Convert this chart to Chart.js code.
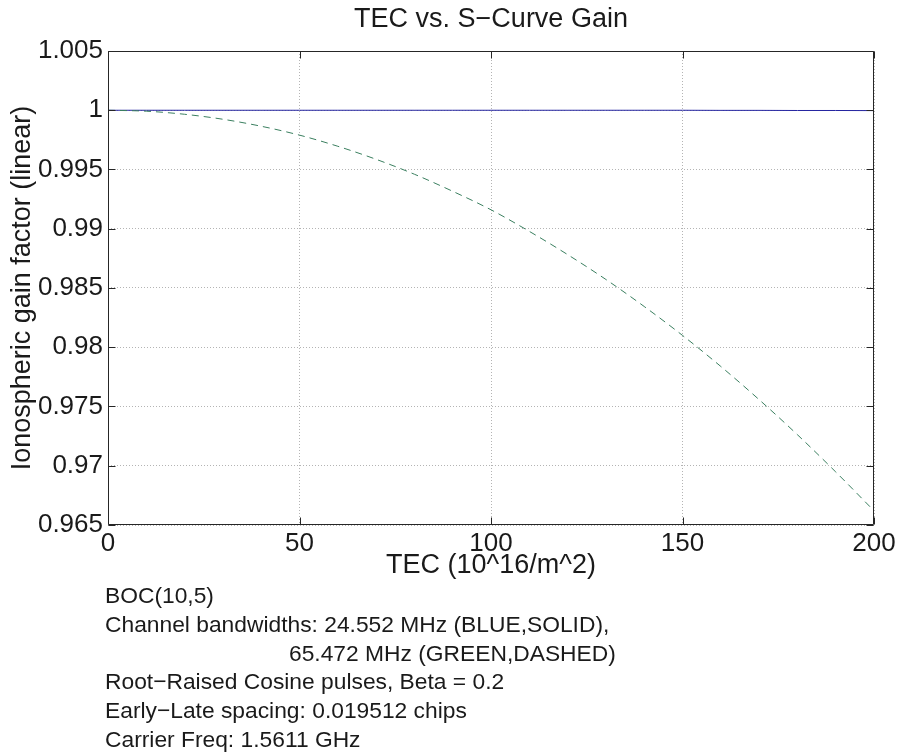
<!DOCTYPE html>
<html>
<head>
<meta charset="utf-8">
<title>TEC vs. S−Curve Gain</title>
<script src="https://cdn.jsdelivr.net/npm/chart.js@4.4.1/dist/chart.umd.min.js"></script>
<style>
  html, body { margin: 0; padding: 0; background: #fff; }
  #wrap { position: relative; width: 902px; height: 756px; }
  #notes {
    position: absolute; left: 105px; top: 581px;
    font-family: 'Liberation Sans', Arial, sans-serif;
    font-size: 22.8px; line-height: 28.8px; color: #1a1a1a;
    white-space: nowrap;
  }
  #notes .indent { padding-left: 184px; }
</style>
</head>
<body>
<div id="wrap">
  <canvas id="chart" width="902" height="756"></canvas>
  <div id="notes">
    <div>BOC(10,5)</div>
    <div>Channel bandwidths: 24.552 MHz (BLUE,SOLID),</div>
    <div class="indent">65.472 MHz (GREEN,DASHED)</div>
    <div>Root−Raised Cosine pulses, Beta = 0.2</div>
    <div>Early−Late spacing: 0.019512 chips</div>
    <div>Carrier Freq: 1.5611 GHz</div>
  </div>
</div>
<script>
const TITLE   = 'TEC vs. S−Curve Gain';
const X_LABEL = 'TEC (10^16/m^2)';
const Y_LABEL = 'Ionospheric gain factor (linear)';

const TEC        = [0, 10, 20, 30, 40, 50, 60, 70, 80, 90, 100, 110, 120, 130, 140, 150, 160, 170, 180, 190, 200];
const GAIN_BLUE  = [1, 1, 1, 1, 1, 1, 1, 1, 1, 1, 1, 1, 1, 1, 1, 1, 0.99999, 0.99999, 0.99998, 0.99998, 0.99997];
const GAIN_GREEN = [1.00000, 0.99992, 0.99966, 0.99924, 0.99865, 0.99790, 0.99696, 0.99586, 0.99460, 0.99316,
                    0.99160, 0.98978, 0.98782, 0.98572, 0.98344, 0.98100, 0.97838, 0.97558, 0.97262, 0.96948, 0.96620];

const X_TICKS       = [0, 50, 100, 150, 200];
const X_TICK_LABELS = ['0', '50', '100', '150', '200'];
const Y_TICKS       = [0.965, 0.97, 0.975, 0.98, 0.985, 0.99, 0.995, 1, 1.005];
const Y_TICK_LABELS = ['0.965', '0.97', '0.975', '0.98', '0.985', '0.99', '0.995', '1', '1.005'];

const FONT       = "'Liberation Sans', Arial, sans-serif";
const TEXT_COLOR = '#1a1a1a';
const AXIS_COLOR = '#262626';
const GRID_COLOR = '#b4b4b4';
const TICK_LEN   = 7;

Chart.defaults.font.family = FONT;
Chart.defaults.color = TEXT_COLOR;

// box, inward tick marks and the title, matlab style
const matlabFrame = {
    id: 'matlabFrame',
    afterDraw(chart) {
        const { ctx, chartArea } = chart;
        const { x, y } = chart.scales;
        const L = Math.round(chartArea.left) + 0.5;
        const R = Math.round(chartArea.right) - 0.5;
        const T = Math.round(chartArea.top) + 0.5;
        const B = Math.round(chartArea.bottom) - 0.5;

        ctx.save();
        ctx.strokeStyle = AXIS_COLOR;
        ctx.lineWidth = 1;
        ctx.beginPath();
        X_TICKS.forEach((v) => {
            const px = Math.round(x.getPixelForValue(v)) + 0.5;
            ctx.moveTo(px, B); ctx.lineTo(px, B - TICK_LEN);
            ctx.moveTo(px, T); ctx.lineTo(px, T + TICK_LEN);
        });
        Y_TICKS.forEach((v) => {
            const py = Math.round(y.getPixelForValue(v)) + 0.5;
            ctx.moveTo(L, py); ctx.lineTo(L + TICK_LEN, py);
            ctx.moveTo(R, py); ctx.lineTo(R - TICK_LEN, py);
        });
        ctx.rect(L, T, R - L, B - T);
        ctx.stroke();

        ctx.fillStyle = TEXT_COLOR;
        ctx.font = `27px ${FONT}`;
        ctx.textAlign = 'center';
        ctx.textBaseline = 'middle';
        ctx.fillText(TITLE, (chartArea.left + chartArea.right) / 2, 19.5);
        ctx.restore();
    }
};

new Chart(document.getElementById('chart').getContext('2d'), {
    type: 'line',
    data: {
        datasets: [
            {
                label: '65.472 MHz',
                data: TEC.map((t, i) => ({ x: t, y: GAIN_GREEN[i] })),
                borderColor: '#3a7f5f',
                borderWidth: 1,
                borderDash: [7, 5],
                pointRadius: 0,
                cubicInterpolationMode: 'monotone'
            },
            {
                label: '24.552 MHz',
                data: TEC.map((t, i) => ({ x: t, y: GAIN_BLUE[i] })),
                borderColor: '#2424a0',
                borderWidth: 1,
                pointRadius: 0
            }
        ]
    },
    options: {
        responsive: false,
        animation: false,
        devicePixelRatio: 1,
        layout: { padding: { top: 51, right: 28, bottom: 174, left: 0 } },
        plugins: {
            legend: { display: false },
            title: { display: false },
            tooltip: { enabled: false }
        },
        scales: {
            x: {
                type: 'linear',
                min: 0,
                max: 200,
                afterBuildTicks: (scale) => { scale.ticks = X_TICKS.map((v) => ({ value: v })); },
                afterFit: (scale) => { scale.height = 57; },
                ticks: {
                    autoSkip: false,
                    maxRotation: 0,
                    padding: 3,
                    font: { size: 26 },
                    callback: (v, i) => X_TICK_LABELS[i]
                },
                grid: { color: GRID_COLOR, lineWidth: 1, drawTicks: false },
                border: { display: false, dash: [1, 2] },
                title: {
                    display: true,
                    text: X_LABEL,
                    font: { size: 27 },
                    padding: { top: 0, bottom: 0 }
                }
            },
            y: {
                type: 'linear',
                min: 0.965,
                max: 1.005,
                afterBuildTicks: (scale) => { scale.ticks = Y_TICKS.map((v) => ({ value: v })); },
                afterFit: (scale) => { scale.width = 108; },
                ticks: {
                    autoSkip: false,
                    padding: 5,
                    font: { size: 26 },
                    callback: (v, i) => Y_TICK_LABELS[i]
                },
                grid: { color: GRID_COLOR, lineWidth: 1, drawTicks: false },
                border: { display: false, dash: [1, 2] },
                title: {
                    display: true,
                    text: Y_LABEL,
                    font: { size: 27 },
                    padding: { top: 6, bottom: 0 }
                }
            }
        }
    },
    plugins: [matlabFrame]
});
</script>
</body>
</html>
